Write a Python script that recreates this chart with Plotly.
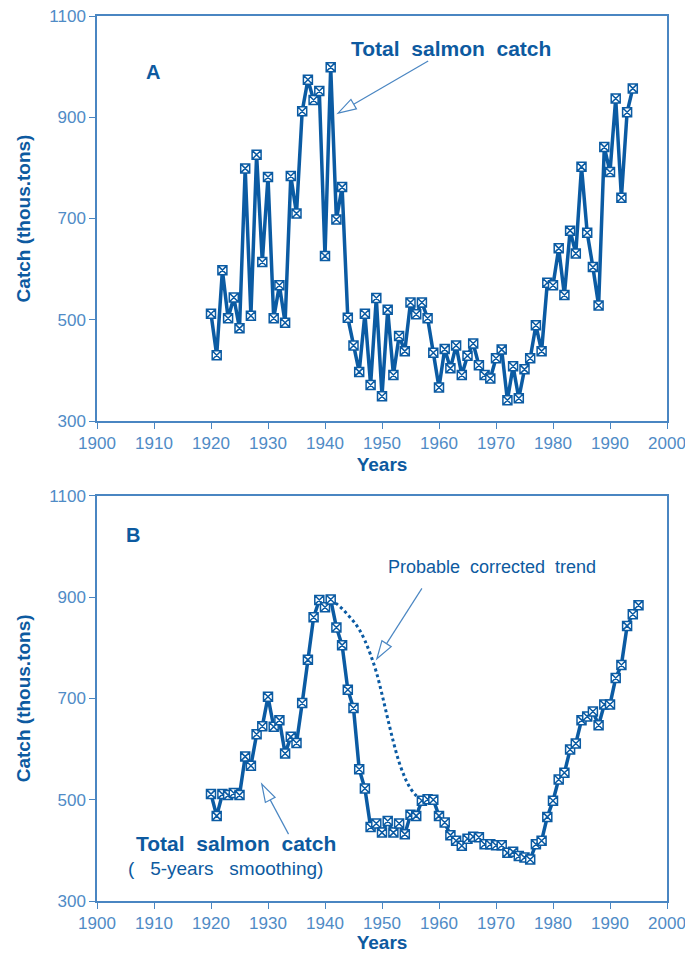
import plotly.graph_objects as go

# ---------------- data ----------------
years_a = list(range(1920, 1995))
catch_a = [512, 430, 598, 503, 544, 483, 799, 508, 826, 614,
           782, 503, 568, 494, 784, 710, 912, 974, 934, 952,
           626, 999, 698, 762, 504, 449, 397, 512, 371, 543,
           349, 520, 391, 468, 438, 534, 511, 534, 503, 435,
           366, 442, 404, 449, 391, 429, 453, 410, 391, 384,
           424, 441, 341, 408, 345, 402, 424, 489, 438, 573,
           568, 641, 549, 676, 631, 802, 672, 604, 528, 841,
           792, 937, 741, 910, 957]

years_b = list(range(1920, 1996))
catch_b = [511, 468, 511, 509, 513, 509, 585, 567, 629, 645,
           703, 644, 657, 591, 624, 612, 691, 776, 860, 894,
           880, 895, 840, 805, 717, 681, 560, 522, 446, 453,
           435, 458, 435, 453, 432, 470, 468, 498, 501, 500,
           468, 455, 430, 419, 409, 423, 427, 426, 412, 412,
           410, 410, 395, 397, 389, 386, 382, 412, 419, 466,
           498, 540, 553, 599, 611, 657, 664, 674, 647, 688,
           688, 740, 766, 843, 866, 884]

years_trend = list(range(1941, 1958))
trend_b = [895, 887, 877, 865, 852, 836, 814, 786, 752, 708,
           660, 614, 574, 544, 522, 508, 500]

x_ticks = list(range(1900, 2001, 10))
y_ticks = [300, 500, 700, 900, 1100]

# ---------------- style ----------------
W, H = 685, 953
ML, MR, MT, MB = 97, 18, 16, 52
PW = W - ML - MR
PH = H - MT - MB
domA = [1 - (421 - MT) / PH, 1.0]
domB = [0.0, 1 - (495.7 - MT) / PH]

LINE = "#0b5ba3"
AXC = "#4a86c2"
TICKC = "#4f8bc6"
TITC = "#0d5aa0"
FONT = "Liberation Sans, Arial, sans-serif"
XR = [1900, 2000]
YR = [300, 1100]

fig = go.Figure()

marker = dict(symbol="square-x", size=9, color="white",
              line=dict(color=LINE, width=1.5))

fig.add_trace(go.Scatter(x=years_a, y=catch_a, mode="lines+markers",
                         line=dict(color=LINE, width=3.5), marker=marker,
                         xaxis="x", yaxis="y", showlegend=False))
fig.add_trace(go.Scatter(x=years_trend, y=trend_b, mode="lines",
                         line=dict(color=LINE, width=3, dash="dot", shape="spline"),
                         xaxis="x2", yaxis="y2", showlegend=False))
fig.add_trace(go.Scatter(x=years_b, y=catch_b, mode="lines+markers",
                         line=dict(color=LINE, width=3.5), marker=marker,
                         xaxis="x2", yaxis="y2", showlegend=False))

def xax(anchor):
    return dict(range=XR, tickvals=x_ticks, ticks="outside", ticklen=6,
                tickcolor=AXC, tickwidth=1.3, showline=True, linecolor=AXC,
                linewidth=1.5, mirror=True, showgrid=False, zeroline=False,
                automargin=False, ticklabeloverflow="allow",
                tickfont=dict(family=FONT, size=17, color=TICKC),
                title=dict(text="<b>Years</b>", standoff=6,
                           font=dict(family=FONT, size=19, color=TITC)),
                anchor=anchor, domain=[0, 1])

def yax(anchor, dom):
    return dict(range=YR, tickvals=y_ticks, ticks="outside", ticklen=6,
                tickcolor=AXC, tickwidth=1.3, showline=True, linecolor=AXC,
                linewidth=1.5, mirror=True, showgrid=False, zeroline=False,
                automargin=False, ticklabeloverflow="allow",
                tickfont=dict(family=FONT, size=17, color=TICKC),
                title=dict(text="<b>Catch (thous.tons)</b>", standoff=14,
                           font=dict(family=FONT, size=19, color=TITC)),
                anchor=anchor, domain=dom)

# ---------------- arrows (hollow heads) ----------------
def to_px(x, y, dom):
    top = MT + (1 - dom[1]) * PH
    h = (dom[1] - dom[0]) * PH
    px = ML + (x - XR[0]) / (XR[1] - XR[0]) * PW
    py = top + (YR[1] - y) / (YR[1] - YR[0]) * h
    return px, py

def to_data(px, py, dom):
    top = MT + (1 - dom[1]) * PH
    h = (dom[1] - dom[0]) * PH
    x = XR[0] + (px - ML) / PW * (XR[1] - XR[0])
    y = YR[1] - (py - top) / h * (YR[1] - YR[0])
    return x, y

shapes = []
def arrow(tail, tip, dom, xr, yr, L=18, Wd=5.5):
    tx, ty = to_px(*tail, dom)
    hx, hy = to_px(*tip, dom)
    dx, dy = tx - hx, ty - hy
    n = (dx * dx + dy * dy) ** 0.5
    ux, uy = dx / n, dy / n
    bx, by = hx + ux * L, hy + uy * L
    p1 = to_data(bx - uy * Wd, by + ux * Wd, dom)
    p2 = to_data(bx + uy * Wd, by - ux * Wd, dom)
    b = to_data(bx, by, dom)
    shapes.append(dict(type="line", xref=xr, yref=yr, x0=tail[0], y0=tail[1],
                       x1=b[0], y1=b[1], line=dict(color=AXC, width=1.2)))
    path = "M {},{} L {},{} L {},{} Z".format(tip[0], tip[1], p1[0], p1[1], p2[0], p2[1])
    shapes.append(dict(type="path", xref=xr, yref=yr, path=path,
                       fillcolor="white", line=dict(color=AXC, width=1.2)))

arrow((1958.1, 1011), (1942.3, 908), domA, "x", "y")
arrow((1957.0, 917), (1949.1, 778), domB, "x2", "y2")
arrow((1933.6, 432), (1928.9, 531), domB, "x2", "y2")

ann = [
    dict(text="<b>A</b>", x=1909.8, y=989, xref="x", yref="y"),
    dict(text="<b>Total  salmon  catch</b>", x=1962.1, y=1036, xref="x", yref="y",
         size=21),
    dict(text="<b>B</b>", x=1906.3, y=1022, xref="x2", yref="y2"),
    dict(text="Probable  corrected  trend", x=1969.3, y=959, xref="x2", yref="y2",
         size=18),
    dict(text="<b>Total  salmon  catch</b>", x=1924.4, y=414, xref="x2", yref="y2",
         size=21),
    dict(text="(   5-years   smoothing)", x=1922.6, y=365, xref="x2", yref="y2",
         size=19),
]
annotations = []
for a in ann:
    annotations.append(dict(text=a["text"], x=a["x"], y=a["y"], xref=a["xref"],
                            yref=a["yref"], showarrow=False, xanchor="center",
                            yanchor="middle",
                            font=dict(family=FONT, size=a.get("size", 20), color=TITC)))

fig.update_layout(
    width=W, height=H,
    margin=dict(l=ML, r=MR, t=MT, b=MB),
    paper_bgcolor="white", plot_bgcolor="white",
    xaxis=xax("y"), yaxis=yax("x", domA),
    xaxis2=xax("y2"), yaxis2=yax("x2", domB),
    shapes=shapes, annotations=annotations,
)

fig.write_html("out.html", config={"displayModeBar": False},
               post_script="document.body.style.margin='0px';document.body.style.overflow='hidden';")
